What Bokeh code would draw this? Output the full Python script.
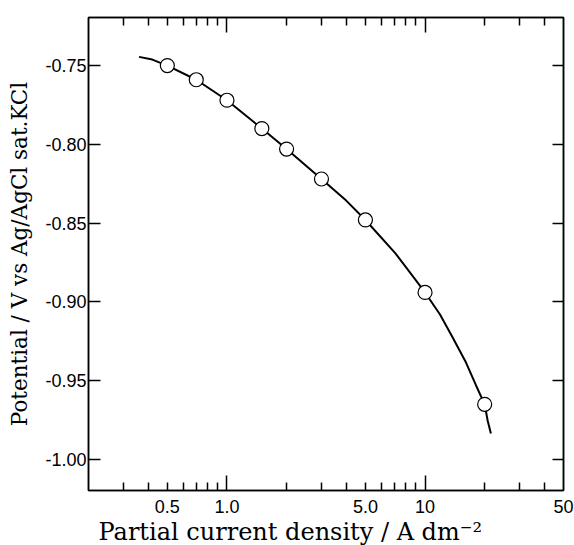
from bokeh.plotting import figure
from bokeh.models import (LogAxis, LinearAxis, FixedTicker, Title, Range1d,
                          CustomJSTickFormatter)
from bokeh.embed import file_html
from bokeh.resources import INLINE

# ---- data ----
point_x = [0.5, 0.7, 1.0, 1.5, 2.0, 3.0, 5.0, 10.0, 20.0]
point_y = [-0.750, -0.759, -0.772, -0.790, -0.803, -0.822, -0.848, -0.894, -0.965]

# fitted curve
curve_x = [0.36, 0.42, 0.5, 0.7, 1.0, 1.5, 2.0, 3.0, 4.0, 5.0, 7.07, 10.0,
           11.9, 13.7, 16.1, 18.0, 20.0, 20.7, 21.5]
curve_y = [-0.7445, -0.7462, -0.750, -0.759, -0.772, -0.790, -0.803, -0.822,
           -0.8357, -0.848, -0.869, -0.894, -0.908, -0.922, -0.9385, -0.9524,
           -0.965, -0.9753, -0.9835]

x_label_ticks = [0.5, 1.0, 5.0, 10.0, 50.0]
x_long_ticks = [1.0, 10.0]
x_short_ticks = [0.3, 0.4, 0.5, 0.6, 0.7, 0.8, 0.9, 2, 3, 4, 5, 6, 7, 8, 9, 20, 30, 40]
y_ticks = [-0.75, -0.80, -0.85, -0.90, -0.95, -1.00]

x_title = "Partial current density / A dm\u207b\u00b2"
y_title = "Potential / V vs Ag/AgCl sat.KCl"

TICK_FONT = "Liberation Sans"
LABEL_FONT = "DejaVu Serif"

p = figure(width=574, height=545, x_axis_type="log",
           x_range=Range1d(0.2, 50), y_range=Range1d(-1.0197, -0.7195),
           x_axis_location=None, y_axis_location=None,
           output_backend="svg", toolbar_location=None,
           min_border_left=88, min_border_right=11, min_border_top=17,
           min_border_bottom=55)
p.grid.visible = False
p.outline_line_color = "black"
p.outline_line_width = 1.5
p.background_fill_color = "white"
p.border_fill_color = "white"


def hide_labels(ax):
    ax.major_label_text_font_size = "1px"
    ax.major_label_text_color = None
    ax.major_label_standoff = 0


def tick_axis():
    ax = LogAxis(ticker=FixedTicker(ticks=x_long_ticks, minor_ticks=x_short_ticks))
    ax.major_tick_in = 15
    ax.major_tick_out = 0
    ax.minor_tick_in = 8
    ax.minor_tick_out = 0
    ax.axis_line_width = 1.5
    ax.major_tick_line_width = 1.5
    ax.minor_tick_line_width = 1.5
    hide_labels(ax)
    return ax


# bottom: ticks axis (nearest the frame) + label-only axis
p.add_layout(tick_axis(), "below")
lab = LogAxis(ticker=FixedTicker(ticks=x_label_ticks, minor_ticks=[]),
              formatter=CustomJSTickFormatter(code="return tick < 10 ? tick.toFixed(1) : tick.toFixed(0);"))
lab.major_tick_in = 0
lab.major_tick_out = 0
lab.minor_tick_in = 0
lab.minor_tick_out = 0
lab.axis_line_color = None
lab.major_label_standoff = 9
lab.major_label_text_font = TICK_FONT
lab.major_label_text_font_size = "18px"
lab.major_label_text_color = "black"
p.add_layout(lab, "below")

p.add_layout(Title(text=x_title, align="left", offset=10, standoff=0,
                   text_font=LABEL_FONT, text_font_size="24px",
                   text_font_style="normal", text_color="black"), "below")

# top
p.add_layout(tick_axis(), "above")

# left
ly = LinearAxis(ticker=FixedTicker(ticks=y_ticks, minor_ticks=[]),
                formatter=CustomJSTickFormatter(code="return tick.toFixed(2);"))
ly.major_tick_in = 12
ly.major_tick_out = 0
ly.minor_tick_in = 0
ly.minor_tick_out = 0
ly.axis_line_width = 1.5
ly.major_tick_line_width = 1.5
ly.major_label_standoff = 2
ly.major_label_text_font = TICK_FONT
ly.major_label_text_font_size = "18px"
ly.major_label_text_color = "black"
ly.axis_label = y_title
ly.axis_label_text_font = LABEL_FONT
ly.axis_label_text_font_size = "21.5px"
ly.axis_label_text_font_style = "normal"
ly.axis_label_text_color = "black"
ly.axis_label_standoff = 10
p.add_layout(ly, "left")

# right
ry = LinearAxis(ticker=FixedTicker(ticks=y_ticks, minor_ticks=[]))
ry.major_tick_in = 11
ry.major_tick_out = 0
ry.minor_tick_in = 0
ry.minor_tick_out = 0
ry.axis_line_width = 1.5
ry.major_tick_line_width = 1.5
hide_labels(ry)
p.add_layout(ry, "right")

p.line(curve_x, curve_y, line_color="black", line_width=2)
p.scatter(point_x, point_y, marker="circle", size=14, fill_color="white",
          line_color="black", line_width=1.2)

open("out.html", "w").write(file_html(p, INLINE))
